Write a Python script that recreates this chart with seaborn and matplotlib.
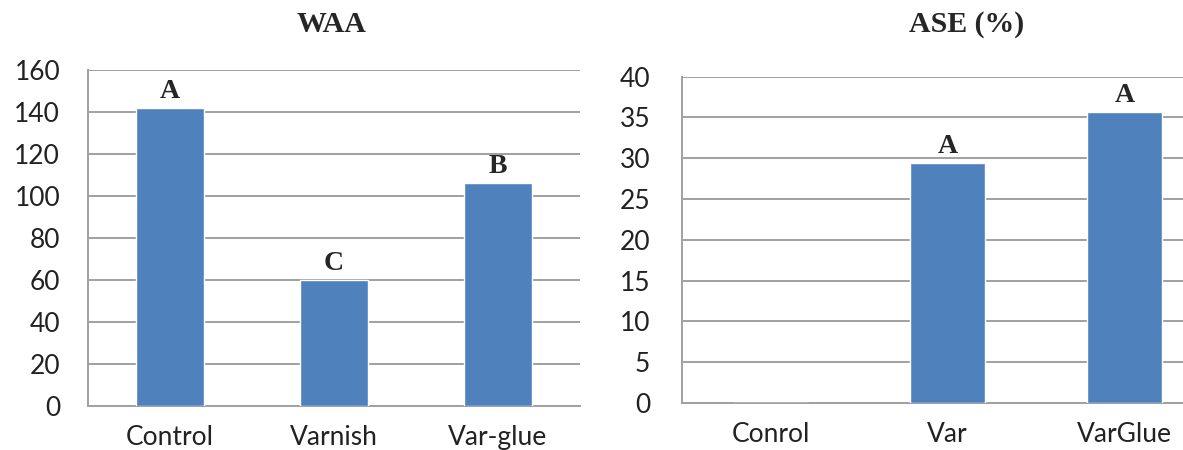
import numpy as np
import pandas as pd
import matplotlib
matplotlib.use("Agg")
import matplotlib.pyplot as plt
import seaborn as sns

# data
waa_labels = ["Control", "Varnish", "Var-glue"]
waa_values = [142, 60, 106]
waa_groups = ["A", "C", "B"]

ase_labels = ["Conrol", "Var", "VarGlue"]
ase_values = [0, 29.4, 35.7]
ase_groups = ["", "A", "A"]

bar_color = "#4F81BD"
grid_color = "#A0A0A0"

sns.set_style("white")
plt.rcParams["font.family"] = ["Lato", "DejaVu Sans"]

fig = plt.figure(figsize=(11.83, 4.5), dpi=100)
W, H = 1183, 450


def make_axes(x0, x1, ytop, ybot):
    return fig.add_axes([x0 / W, 1 - ybot / H, (x1 - x0) / W, (ybot - ytop) / H])


def draw_panel(ax, labels, values, groups, ymax, step, ytick_pad):
    df = pd.DataFrame({"cat": labels, "val": values})
    sns.barplot(data=df, x="cat", y="val", color=bar_color, width=0.42,
                saturation=1, ax=ax, zorder=3)
    ax.set_xlim(-0.5, len(labels) - 0.5)
    ax.set_ylim(0, ymax)
    ax.set_yticks(np.arange(0, ymax + step / 2, step))
    ax.yaxis.grid(True, color=grid_color, linewidth=1.4, zorder=0)
    ax.set_axisbelow(True)
    ax.set_xlabel("")
    ax.set_ylabel("")
    for side in ["top", "right"]:
        ax.spines[side].set_visible(False)
    for side in ["left", "bottom"]:
        ax.spines[side].set_color(grid_color)
        ax.spines[side].set_linewidth(1.4)
    ax.tick_params(axis="y", length=8, width=1.2, color=grid_color,
                   pad=ytick_pad, labelsize=19, labelcolor="#222222")
    ax.tick_params(axis="x", which="major", length=0, pad=14,
                   labelsize=19, labelcolor="#222222")
    ax.set_xticks(np.arange(-0.5, len(labels)), minor=True)
    ax.tick_params(axis="x", which="minor", length=6, width=1.2, color=grid_color)
    for i, (v, g) in enumerate(zip(values, groups)):
        if g:
            ax.annotate(g, (i, v), xytext=(0, 3), textcoords="offset points",
                        ha="center", va="bottom", fontsize=20, fontweight="bold",
                        family=["Liberation Serif", "DejaVu Serif"])


ax1 = make_axes(88, 580, 70, 406)
draw_panel(ax1, waa_labels, waa_values, waa_groups, 160, 20, 12)

ax2 = make_axes(682, 1213, 76.7, 403)
draw_panel(ax2, ase_labels, ase_values, ase_groups, 40, 5, 15)

fig.text(332 / W, 1 - 24 / H, "WAA", ha="center", va="center", fontsize=21.5,
         fontweight="bold", family=["Liberation Serif", "DejaVu Serif"])
fig.text(967 / W, 1 - 25 / H, "ASE (%)", ha="center", va="center", fontsize=21.5,
         fontweight="bold", family=["Liberation Serif", "DejaVu Serif"])

fig.savefig("out.png", dpi=100)
